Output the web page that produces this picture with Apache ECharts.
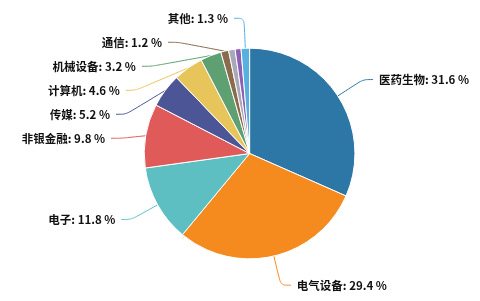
<!DOCTYPE html>
<html><head><meta charset="utf-8">
<script src="https://cdn.jsdelivr.net/npm/echarts@6/dist/echarts.min.js"></script>
<style>html,body{margin:0;padding:0;background:#fff}#c{width:480px;height:301px}</style>
</head><body><div id="c"></div>
<script>
const categories = ['医药生物','电气设备','电子','非银金融','传媒','计算机','机械设备','通信','家用电器','汽车','其他'];
const values = [31.6, 29.4, 11.8, 9.8, 5.2, 4.6, 3.2, 1.2, 1.0, 0.9, 1.3];
const showLabel = [true,true,true,true,true,true,true,true,false,false,true];
const colors = ['#2c77a6','#f58a1f','#5dbfc2','#e05a5a','#4c5595','#e8c55a','#5ea071','#8b6b4c','#a7a9b8','#8d5fb5','#56b0e0'];

const chart = echarts.init(document.getElementById('c'));
chart.setOption({
  animation:false,
  color: colors,
  series:[{
    type:'pie',
    center:['52%','51%'],
    radius:'70%',
    startAngle:90,
    itemStyle:{borderColor:'#fff',borderWidth:1},
    label:{
      color:'#111', fontSize:11.5, fontWeight:'bold', lineHeight:22, overflow:'none',
      distanceToLabelLine:6,
      fontFamily:'"Noto Sans CJK SC", sans-serif',
      formatter: p => p.name + ': ' + p.value.toFixed(1) + ' %'
    },
    labelLine:{length:30,length2:10,smooth:true},
    data: categories.map((n,i)=>({name:n,value:values[i],label:{show:showLabel[i]},labelLine:{show:showLabel[i]}}))
  }]
});
</script></body></html>
